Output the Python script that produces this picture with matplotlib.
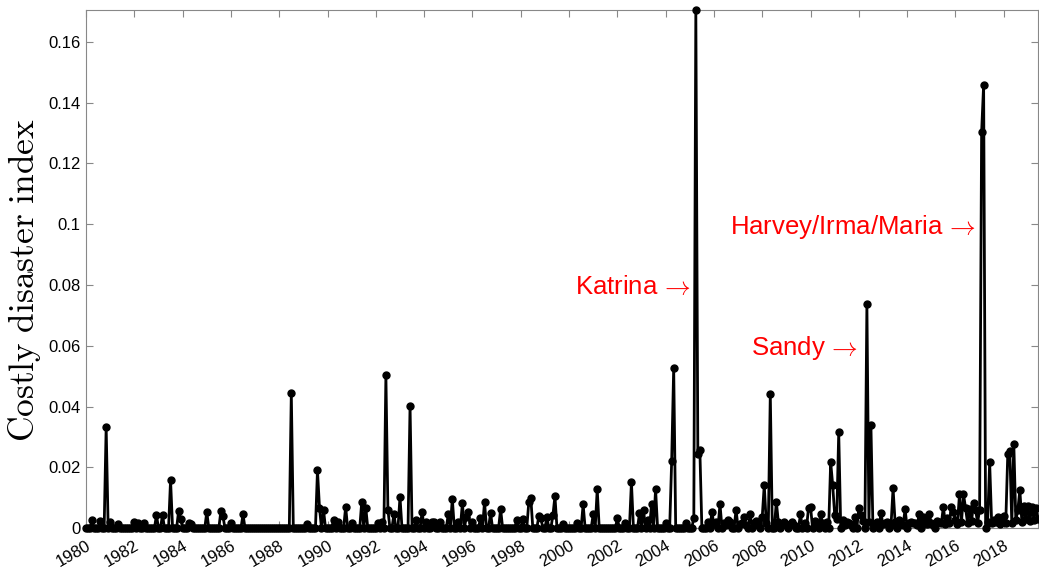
import numpy as np
import matplotlib
matplotlib.use('Agg')
import matplotlib.pyplot as plt

plt.rcParams['font.family'] = ['Liberation Sans', 'DejaVu Sans']
plt.rcParams['mathtext.fontset'] = 'cm'

# monthly series starting Jan 1980
n_months = 474
start_year = 1980

# larger events: month index (since Jan 1980) and index value
event_months = [3, 7, 10, 12, 16, 24, 26, 29, 35, 38, 42, 46, 47, 51, 52, 60, 67, 68, 72, 78,
                102, 110, 115, 116, 118, 123, 125, 129, 132, 137, 139, 145, 147, 149, 150, 153,
                156, 161, 164, 167, 169, 172, 173, 176, 180, 182, 185, 187, 189, 190, 192, 196,
                198, 201, 206, 214, 217, 220, 221, 225, 226, 229, 232, 233, 237, 244, 247, 252,
                254, 264, 268, 271, 275, 277, 279, 281, 283, 288, 291, 292, 298, 302, 303, 304,
                305, 309, 311, 315, 320, 323, 327, 330, 336, 337, 340, 343, 344, 355, 359, 360,
                365, 368, 370, 371, 372, 373, 374, 376, 378, 382, 384, 385, 388, 389, 390, 395,
                398, 401, 404, 407, 409, 411, 414, 416, 419, 423, 426, 428, 430, 431, 434, 436,
                437, 439, 441, 442, 444, 445, 446, 448, 449, 453, 456, 458, 459, 461, 463, 464,
                466, 468, 470, 472, 473]
event_values = [0.0026, 0.0023, 0.0332, 0.002, 0.0013, 0.002, 0.0016, 0.0016, 0.0043, 0.0043,
                0.0158, 0.0056, 0.003, 0.0016, 0.0013, 0.0053, 0.0056, 0.0041, 0.0016, 0.0045,
                0.0444, 0.0012, 0.019, 0.0067, 0.006, 0.0026, 0.002, 0.007, 0.0017, 0.0087,
                0.0067, 0.0017, 0.002, 0.0503, 0.006, 0.0046, 0.0102, 0.0403, 0.0026, 0.0054,
                0.002, 0.002, 0.002, 0.002, 0.0046, 0.0097, 0.002, 0.0082, 0.0037, 0.0053,
                0.002, 0.0033, 0.0086, 0.005, 0.0063, 0.0026, 0.003, 0.0085, 0.0099, 0.004,
                0.0032, 0.0035, 0.0043, 0.0105, 0.0013, 0.0017, 0.0078, 0.0045, 0.0128, 0.0032,
                0.0018, 0.0151, 0.0048, 0.006, 0.0026, 0.0079, 0.0128, 0.0018, 0.0222, 0.0527,
                0.0016, 0.0034, 0.1705, 0.0245, 0.0257, 0.0021, 0.0052, 0.0079, 0.0021, 0.006,
                0.0037, 0.0046, 0.0037, 0.0142, 0.0441, 0.0087, 0.002, 0.0045, 0.0067, 0.007,
                0.0046, 0.0021, 0.0217, 0.0142, 0.0043, 0.003, 0.0315, 0.0026, 0.002, 0.0037,
                0.0065, 0.0043, 0.0738, 0.002, 0.034, 0.0048, 0.002, 0.0131, 0.0026, 0.0062,
                0.0018, 0.0018, 0.0046, 0.0037, 0.0045, 0.0023, 0.007, 0.0034, 0.007, 0.0054,
                0.0111, 0.0111, 0.0067, 0.0062, 0.0083, 0.006, 0.006, 0.1303, 0.1459, 0.002,
                0.0216, 0.0037, 0.004, 0.0244, 0.0255, 0.0277, 0.006, 0.0125, 0.0074, 0.0074,
                0.007, 0.0067, 0.003]

# small background values after 2005
background_months = [312, 313, 317, 318, 319, 325, 326, 328, 332, 333, 334, 338, 346, 347, 348,
                     350, 351, 352, 357, 362, 363, 366, 377, 379, 380, 386, 392, 393, 396, 397,
                     400, 402, 405, 406, 410, 412, 413, 417, 418, 420, 421, 424, 425, 427, 429,
                     432, 433, 435, 438, 440, 443, 450, 451, 452, 454, 455, 457, 460, 462, 465,
                     467, 469, 471]
background_values = [0.0012, 0.002, 0.0015, 0.001, 0.0025, 0.0012, 0.0018, 0.001, 0.0015, 0.0022,
                     0.001, 0.0016, 0.0014, 0.002, 0.0011, 0.0013, 0.0019, 0.001, 0.0016, 0.0022,
                     0.0012, 0.0015, 0.0011, 0.0018, 0.001, 0.0024, 0.0013, 0.002, 0.0012, 0.0017,
                     0.001, 0.0021, 0.0014, 0.0011, 0.0019, 0.0015, 0.001, 0.0022, 0.0013, 0.0017,
                     0.0011, 0.002, 0.0015, 0.0012, 0.0018, 0.0025, 0.0014, 0.002, 0.0016, 0.0022,
                     0.0018, 0.0015, 0.0025, 0.002, 0.0012, 0.0022, 0.0018, 0.0015, 0.0025, 0.002,
                     0.003, 0.0024, 0.0028]

xtick_years = list(range(1980, 2019, 2))
ytick_vals = [0, 0.02, 0.04, 0.06, 0.08, 0.1, 0.12, 0.14, 0.16]
ytick_labels = ['0', '0.02', '0.04', '0.06', '0.08', '0.1', '0.12', '0.14', '0.16']

series = np.zeros(n_months)
series[background_months] = background_values
series[event_months] = event_values
t = start_year + np.arange(n_months) / 12.0

fig = plt.figure(figsize=(10.39, 5.69), dpi=100)
ax = fig.add_axes([0.0828, 0.072, 0.9162, 0.9104])

ax.plot(t, series, color='black', lw=2, marker='o', markersize=5, clip_on=False, zorder=3)

ax.set_xlim(t[0], t[-1])
ax.set_ylim(0, 0.1705)
ax.set_xticks(xtick_years)
ax.set_xticklabels([str(y) for y in xtick_years], rotation=30, ha='right',
                   rotation_mode='anchor', fontsize=12)
ax.set_yticks(ytick_vals)
ax.set_yticklabels(ytick_labels, fontsize=12)

gray = '#888888'
for s in ax.spines.values():
    s.set_color(gray)
    s.set_linewidth(0.8)
ax.tick_params(direction='in', length=5, color=gray, top=True, right=True, pad=4)
ax.tick_params(axis='x', pad=7)

ax.set_ylabel(r'$\mathrm{Costly\ disaster\ index}$', fontsize=25.5)
ax.yaxis.set_label_coords(-0.045, 0.478)

red = '#ff0000'
ax.text(2005.06, 0.0792, r'Katrina $\!\rightarrow$', color=red, fontsize=18.5, ha='right', va='center')
ax.text(2011.99, 0.0591, r'Sandy $\!\rightarrow$', color=red, fontsize=18.5, ha='right', va='center')
ax.text(2016.85, 0.0990, r'Harvey/Irma/Maria $\!\rightarrow$', color=red, fontsize=18.5,
        ha='right', va='center')

fig.savefig('out.png', dpi=100)
